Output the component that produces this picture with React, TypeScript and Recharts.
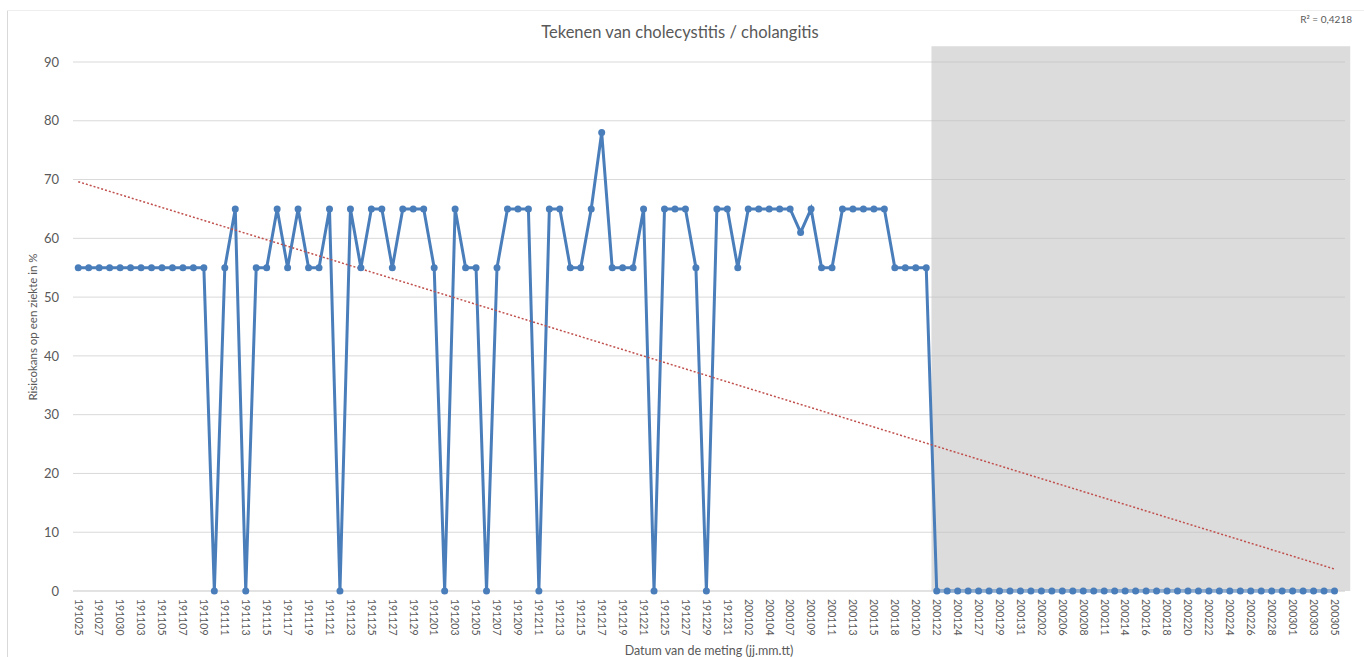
import React from "react";
import {
  LineChart,
  Line,
  XAxis,
  YAxis,
  CartesianGrid,
  ReferenceArea,
} from "recharts";

// Tick labels (every second measurement is labelled), format jj.mm.tt
const tickLabels: string[] = [
  "191025", "191027", "191030", "191103", "191105", "191107", "191109", "191111",
  "191113", "191115", "191117", "191119", "191121", "191123", "191125", "191127",
  "191129", "191201", "191203", "191205", "191207", "191209", "191211", "191213",
  "191215", "191217", "191219", "191221", "191225", "191227", "191229", "191231",
  "200102", "200104", "200107", "200109", "200111", "200113", "200115", "200118",
  "200120", "200122", "200124", "200127", "200129", "200131", "200202", "200206",
  "200208", "200211", "200214", "200216", "200218", "200220", "200222", "200224",
  "200226", "200228", "200301", "200303", "200305",
];

// Risicokans op een ziekte in % (one value per measurement)
const riskValues: number[] = [
  55, 55, 55, 55, 55, 55, 55, 55, 55, 55, 55, 55, 55, 0, 55, 65, 0, 55, 55, 65,
  55, 65, 55, 55, 65, 0, 65, 55, 65, 65, 55, 65, 65, 65, 55, 0, 65, 55, 55, 0,
  55, 65, 65, 65, 0, 65, 65, 55, 55, 65, 78, 55, 55, 55, 65, 0, 65, 65, 65, 55,
  0, 65, 65, 55, 65, 65, 65, 65, 65, 61, 65, 55, 55, 65, 65, 65, 65, 65, 55, 55,
  55, 55, 0, 0, 0, 0, 0, 0, 0, 0, 0, 0, 0, 0, 0, 0, 0, 0, 0, 0,
  0, 0, 0, 0, 0, 0, 0, 0, 0, 0, 0, 0, 0, 0, 0, 0, 0, 0, 0, 0,
  0,
];

const yTicks: number[] = [0, 10, 20, 30, 40, 50, 60, 70, 80, 90];
const shadedFrom = 81.5; // start of grey shaded period (measurement index)
const rSquaredText = "R² = 0,4218";

// Linear (least squares) trend line of the series, as in the original chart
const n = riskValues.length;
const meanX = (n - 1) / 2;
const meanY = riskValues.reduce((a, b) => a + b, 0) / n;
let sxy = 0;
let sxx = 0;
riskValues.forEach((v, i) => {
  sxy += (i - meanX) * (v - meanY);
  sxx += (i - meanX) * (i - meanX);
});
const slope = sxy / sxx;
const intercept = meanY - slope * meanX;

const data = riskValues.map((v, i) => ({
  i,
  value: v,
  trend: intercept + slope * i,
}));

const xTicks = tickLabels.map((_, k) => k * 2);

const FONT = "Lato, 'Liberation Sans', sans-serif";
const TEXT = "#595959";
const BLUE = "#4a7ebb";

const XTick = (props: any) => {
  const { x, y, payload } = props;
  const label = tickLabels[Math.round(payload.value / 2)] ?? "";
  return (
    <g transform={`translate(${x},${y})`}>
      <text
        transform="rotate(90)"
        x={0}
        y={0}
        dy="0.35em"
        textAnchor="start"
        fontSize={10.5}
        fontFamily={FONT}
        fill={TEXT}
      >
        {label}
      </text>
    </g>
  );
};

export default function App() {
  return (
    <div
      style={{
        position: "absolute",
        left: 0,
        top: 0,
        width: 1364,
        height: 657,
        background: "#ffffff",
        overflow: "hidden",
      }}
    >
      <LineChart
        width={1364}
        height={657}
        data={data}
        margin={{ top: 62, right: 19, bottom: 0, left: 33 }}
      >
        <CartesianGrid vertical={false} stroke="#d9d9d9" strokeWidth={1} />
        <XAxis
          dataKey="i"
          type="number"
          domain={[-0.5, 120.5]}
          ticks={xTicks}
          interval={0}
          height={66}
          axisLine={{ stroke: "#d9d9d9" }}
          tickLine={false}
          tick={<XTick />}
          allowDecimals={false}
        />
        <YAxis
          domain={[0, 90]}
          ticks={yTicks}
          width={40}
          axisLine={false}
          tickLine={false}
          tickMargin={8}
          tick={{ fontSize: 13, fill: TEXT, fontFamily: FONT }}
        />
        <ReferenceArea
          x1={shadedFrom}
          x2={121.5}
          y1={0}
          y2={92.7}
          ifOverflow="visible"
          fill="#bfbfbf"
          fillOpacity={0.55}
          stroke="none"
        />
        <Line
          dataKey="value"
          stroke={BLUE}
          strokeWidth={3}
          dot={{ r: 3.5, fill: BLUE, stroke: BLUE, strokeWidth: 0 }}
          activeDot={false}
          isAnimationActive={false}
          type="linear"
        />
        <Line
          dataKey="trend"
          stroke="#c0504d"
          strokeWidth={1.5}
          strokeDasharray="2 2"
          dot={false}
          activeDot={false}
          isAnimationActive={false}
          type="linear"
        />
      </LineChart>
      <svg
        width={1364}
        height={657}
        style={{ position: "absolute", left: 0, top: 0, pointerEvents: "none" }}
      >
        <line x1={7.5} y1={10.5} x2={7.5} y2={657} stroke="#d9d9d9" />
        <line x1={7.5} y1={10.5} x2={1364} y2={10.5} stroke="#eeeeee" />
        <text
          x={680}
          y={38}
          textAnchor="middle"
          fontSize={16.5}
          fontFamily={FONT}
          fill={TEXT}
        >
          Tekenen van cholecystitis / cholangitis
        </text>
        <text
          x={1352}
          y={23}
          textAnchor="end"
          fontSize={10}
          fontFamily={FONT}
          fill={TEXT}
        >
          {rSquaredText}
        </text>
        <text
          transform="translate(37,327) rotate(-90)"
          textAnchor="middle"
          fontSize={11.5}
          fontFamily={FONT}
          fill={TEXT}
        >
          Risicokans op een ziekte in %
        </text>
        <text
          x={709}
          y={655}
          textAnchor="middle"
          fontSize={12.5}
          fontFamily={FONT}
          fill={TEXT}
        >
          Datum van de meting (jj.mm.tt)
        </text>
      </svg>
    </div>
  );
}
